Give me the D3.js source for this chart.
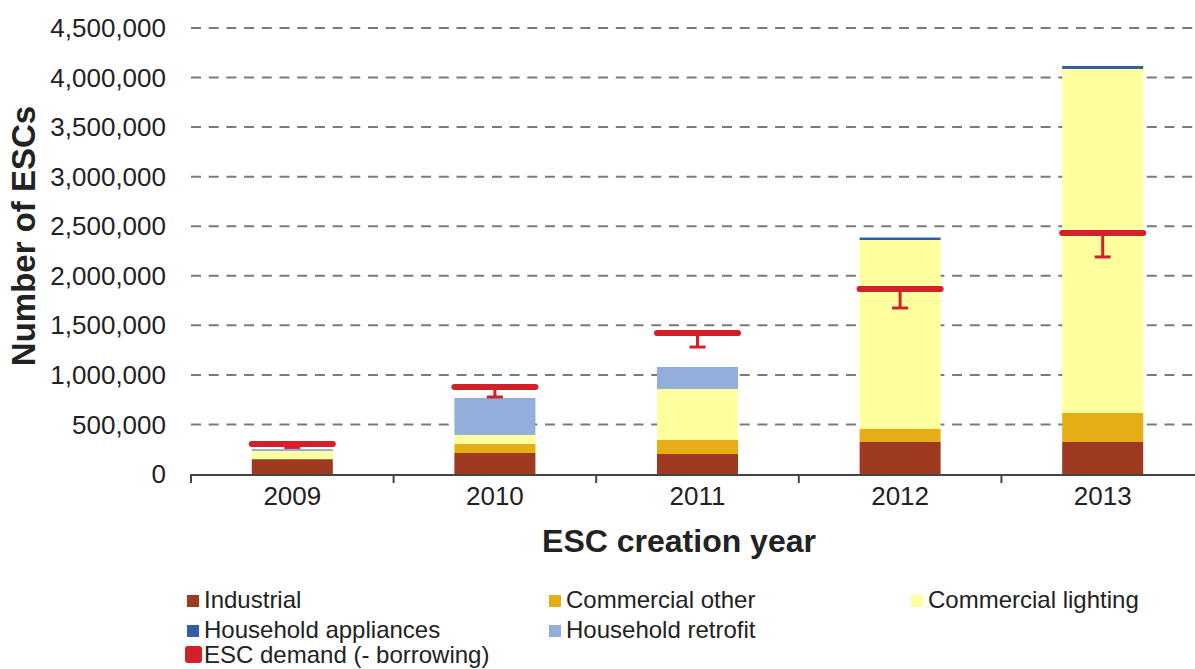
<!DOCTYPE html>
<html>
<head>
<meta charset="utf-8">
<script src="https://cdn.jsdelivr.net/npm/d3@7"></script>
<style>
  html, body { margin: 0; padding: 0; background: #fff; }
  svg { display: block; font-family: "Liberation Sans", Arial, sans-serif; }
</style>
</head>
<body>
<svg id="chart" width="1195" height="669"></svg>
<script>
// ---- data ----
const years = ["2009", "2010", "2011", "2012", "2013"];
const seriesNames = ["Industrial", "Commercial other", "Commercial lighting", "Household appliances", "Household retrofit"];
const industrial          = [150000, 212000, 202000, 323000, 323000];
const commercialOther     = [0, 91000, 141000, 131000, 293000];
const commercialLighting  = [82000, 91000, 515000, 1907000, 3471000];
const householdAppliances = [0, 0, 0, 25000, 30000];
const householdRetrofit   = [20000, 373000, 222000, 0, 0];
const escDemand           = [303000, 878000, 1423000, 1867000, 2432000];
const escDemandBorrowing  = [268000, 777000, 1281000, 1675000, 2190000];
const yTicks = [0, 500000, 1000000, 1500000, 2000000, 2500000, 3000000, 3500000, 4000000, 4500000];
const xTitle = "ESC creation year";
const yTitle = "Number of ESCs";
const demandLabel = "ESC demand (- borrowing)";

const colors = {
  "Industrial": "#9E3A1F",
  "Commercial other": "#E5AE14",
  "Commercial lighting": "#FFFFA0",
  "Household appliances": "#2F5EA6",
  "Household retrofit": "#93AEDA"
};
const demandColor = "#D4202A";

const seriesValues = [industrial, commercialOther, commercialLighting, householdAppliances, householdRetrofit];
const table = years.map((y, i) => {
  const row = { year: y };
  seriesNames.forEach((s, k) => row[s] = seriesValues[k][i]);
  row.demand = escDemand[i];
  row.borrow = escDemandBorrowing[i];
  return row;
});

const svg = d3.select("#chart");
const x = d3.scaleBand().domain(years).range([191, 1204]).paddingInner(0.6).paddingOuter(0.3);
const xEdge = d3.scaleBand().domain(years).range([191, 1204]).padding(0);
const y = d3.scaleLinear().domain([0, 4500000]).range([474, 28]);

// grid
svg.append("g").selectAll("line").data(yTicks.filter(d => d > 0)).join("line")
  .attr("x1", 191).attr("x2", 1195)
  .attr("y1", d => y(d)).attr("y2", d => y(d))
  .attr("stroke", "#7a7a7a").attr("stroke-width", 2)
  .attr("stroke-dasharray", "10,7.7");

// y tick labels
svg.append("g").selectAll("text").data(yTicks).join("text")
  .attr("x", 166).attr("y", d => y(d)).attr("dy", "0.35em")
  .attr("text-anchor", "end").attr("font-size", 26).attr("fill", "#222")
  .text(d => d3.format(",")(d));

// stacked bars
const stack = d3.stack().keys(seriesNames)(table);
svg.append("g").selectAll("g").data(stack).join("g")
  .attr("fill", d => colors[d.key])
  .selectAll("rect").data(d => d).join("rect")
  .attr("x", d => x(d.data.year))
  .attr("width", x.bandwidth())
  .attr("y", d => y(d[1]))
  .attr("height", d => y(d[0]) - y(d[1]));

// x axis
const xAxisG = svg.append("g").attr("transform", "translate(0,475)");
xAxisG.append("line").attr("x1", 190).attr("x2", 1195).attr("y1", 0).attr("y2", 0)
  .attr("stroke", "#444").attr("stroke-width", 2);
const edges = years.map(yr => xEdge(yr)).concat([xEdge(years[years.length - 1]) + xEdge.bandwidth()]);
xAxisG.selectAll("line.tick").data(edges).join("line").attr("class", "tick")
  .attr("x1", d => d).attr("x2", d => d).attr("y1", 0).attr("y2", 8)
  .attr("stroke", "#444").attr("stroke-width", 2);
xAxisG.selectAll("text").data(years).join("text")
  .attr("x", d => x(d) + x.bandwidth() / 2).attr("y", 30)
  .attr("text-anchor", "middle").attr("font-size", 26).attr("fill", "#222")
  .text(d => d);

// demand lines + borrowing error bars
const dem = svg.append("g").attr("stroke", demandColor).attr("fill", "none");
dem.selectAll("line.stem").data(table).join("line").attr("class", "stem")
  .attr("x1", d => x(d.year) + x.bandwidth() / 2).attr("x2", d => x(d.year) + x.bandwidth() / 2)
  .attr("y1", d => y(d.demand)).attr("y2", d => y(d.borrow))
  .attr("stroke-width", 3);
dem.selectAll("line.cap").data(table).join("line").attr("class", "cap")
  .attr("x1", d => x(d.year) + x.bandwidth() / 2 - 8).attr("x2", d => x(d.year) + x.bandwidth() / 2 + 8)
  .attr("y1", d => y(d.borrow)).attr("y2", d => y(d.borrow))
  .attr("stroke-width", 3);
dem.selectAll("line.demand").data(table).join("line").attr("class", "demand")
  .attr("x1", d => x(d.year)).attr("x2", d => x(d.year) + x.bandwidth())
  .attr("y1", d => y(d.demand)).attr("y2", d => y(d.demand))
  .attr("stroke-width", 6).attr("stroke-linecap", "round");

// axis titles
svg.append("text").attr("x", 679).attr("y", 552).attr("text-anchor", "middle")
  .attr("font-size", 32).attr("font-weight", "bold").attr("fill", "#222").text(xTitle);
svg.append("text").attr("transform", "translate(35,236) rotate(-90)").attr("text-anchor", "middle")
  .attr("font-size", 33).attr("font-weight", "bold").attr("fill", "#222").text(yTitle);

// legend
const legendItems = [
  { name: "Industrial", col: 0, row: 0 },
  { name: "Commercial other", col: 1, row: 0 },
  { name: "Commercial lighting", col: 2, row: 0 },
  { name: "Household appliances", col: 0, row: 1 },
  { name: "Household retrofit", col: 1, row: 1 },
  { name: demandLabel, col: 0, row: 2, demand: true }
];
const colX = [186, 548, 910];
const rowY = [608, 638, 663];
const lg = svg.append("g");
const li = lg.selectAll("g").data(legendItems).join("g")
  .attr("transform", d => `translate(${colX[d.col]},${rowY[d.row]})`);
li.append("rect")
  .attr("x", d => d.demand ? -1 : 1).attr("y", d => d.demand ? -17 : -13)
  .attr("width", d => d.demand ? 17 : 12).attr("height", d => d.demand ? 17 : 12)
  .attr("rx", d => d.demand ? 3 : 0)
  .attr("fill", d => d.demand ? demandColor : colors[d.name]);
li.append("text").attr("x", 18).attr("y", 0).attr("font-size", 24).attr("fill", "#222")
  .text(d => d.name);
</script>
</body>
</html>
